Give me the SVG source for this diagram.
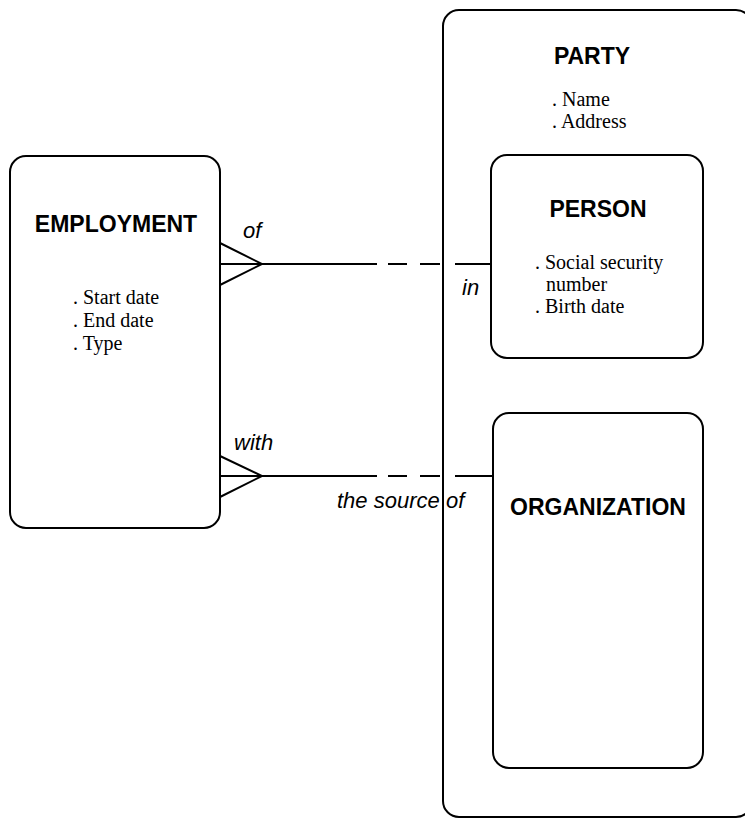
<svg xmlns="http://www.w3.org/2000/svg" width="745" height="820" viewBox="0 0 745 820">
<style>
.box{fill:none;stroke:#000;stroke-width:2}
.title{font-family:"Liberation Sans",Arial,sans-serif;font-weight:bold;font-size:23px;text-anchor:middle;fill:#000}
.attr{font-family:"Liberation Serif","Times New Roman",serif;font-size:20px;fill:#000}
.lbl{font-family:"Liberation Sans",Arial,sans-serif;font-style:italic;font-size:22px;fill:#000}
.ln{fill:none;stroke:#000;stroke-width:2}
</style>
<rect width="745" height="820" fill="#fff"/>
<g id="party">
<rect class="box" x="443" y="10" width="309" height="807" rx="16"/>
<text class="title" x="592" y="64">PARTY</text>
<text class="attr" x="552" y="106">. Name</text>
<text class="attr" x="552" y="128">. Address</text>
</g>
<g id="person">
<rect class="box" x="491" y="155" width="212" height="203" rx="16"/>
<text class="title" x="598" y="217">PERSON</text>
<text class="attr" x="535" y="269">. Social security</text>
<text class="attr" x="546" y="291">number</text>
<text class="attr" x="535" y="313">. Birth date</text>
</g>
<g id="organization">
<rect class="box" x="493" y="413" width="210" height="355" rx="16"/>
<text class="title" x="598" y="515">ORGANIZATION</text>
</g>
<g id="employment">
<rect class="box" x="10" y="156" width="210" height="372" rx="16"/>
<text class="title" x="116" y="232">EMPLOYMENT</text>
<text class="attr" x="73" y="304">. Start date</text>
<text class="attr" x="73" y="327">. End date</text>
<text class="attr" x="73" y="350">. Type</text>
</g>
<g id="connectors">
<polyline class="ln" points="220,243 262,264 220,285"/>
<path class="ln" d="M220,264 H377 M388,264 H407 M420,264 H440 M455,264 H491"/>
<polyline class="ln" points="220,456 262,476 220,497"/>
<path class="ln" d="M220,476 H377 M388,476 H407 M420,476 H440 M455,476 H493"/>
<text class="lbl" x="243" y="238">of</text>
<text class="lbl" x="462" y="295">in</text>
<text class="lbl" x="234" y="450">with</text>
<text class="lbl" x="337" y="508">the source <tspan x="446">of</tspan></text>
</g>
</svg>
